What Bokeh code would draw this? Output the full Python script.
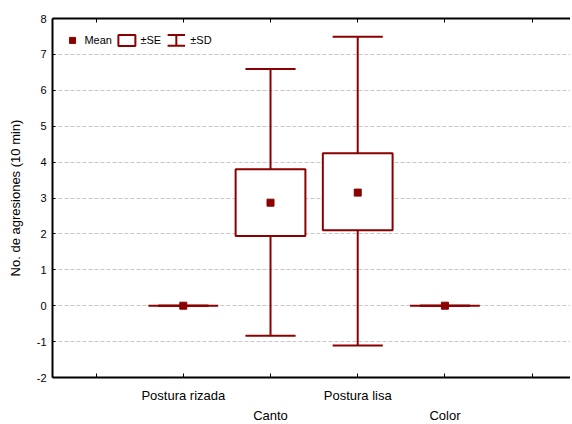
from bokeh.plotting import figure
from bokeh.models import LinearAxis, FixedTicker, Range1d, ColumnDataSource
from bokeh.core.properties import value
from bokeh.embed import file_html
from bokeh.resources import INLINE

# ---- data ----
categories = ["Postura rizada", "Canto", "Postura lisa", "Color"]
positions = [1, 2, 3, 4]
means = [0.0, 2.87, 3.15, 0.0]
se_low = [0.0, 1.94, 2.10, 0.0]
se_high = [0.0, 3.80, 4.25, 0.0]
sd_low = [0.0, -0.84, -1.11, 0.0]
sd_high = [0.0, 6.59, 7.49, 0.0]
y_ticks = [-2, -1, 0, 1, 2, 3, 4, 5, 6, 7, 8]
y_label = "No. de agresiones (10 min)"

RED = "#8b0000"
FONT = "Liberation Sans"
BOX_W = 0.8
CAP_W = 0.575

p = figure(frame_width=518, frame_height=359, output_backend="svg", toolbar_location=None,
           x_range=Range1d(-0.5, 5.44), y_range=Range1d(-2, 8),
           x_axis_location=None, y_axis_location=None,
           min_border_left=52, min_border_right=0, min_border_top=18, min_border_bottom=0)
p.outline_line_color = None
p.background_fill_color = "white"
p.border_fill_color = "white"

# grid
p.xgrid.visible = False
p.ygrid.ticker = FixedTicker(ticks=y_ticks)
p.ygrid.grid_line_color = "#c8c8c8"
p.ygrid.grid_line_dash = "4 2"
p.ygrid.grid_line_width = 1

# left axis
ya = LinearAxis(ticker=FixedTicker(ticks=y_ticks), axis_label=y_label)
ya.axis_line_width = 2
ya.axis_line_color = "black"
ya.major_tick_in = 3
ya.major_tick_out = 0
ya.minor_tick_line_color = None
ya.major_label_standoff = 6
ya.major_label_text_font = FONT
ya.major_label_text_font_size = "11px"
ya.major_label_text_color = "black"
ya.major_label_overrides = {t: str(t) for t in y_ticks}
ya.axis_label_text_font = FONT
ya.axis_label_text_font_size = "13px"
ya.axis_label_text_font_style = "normal"
ya.axis_label_text_color = "black"
ya.axis_label_standoff = 11
p.add_layout(ya, "left")

xticks = [0, 1, 2, 3, 4, 5]
# top axis (line + ticks only)
ta = LinearAxis(ticker=FixedTicker(ticks=xticks))
ta.axis_line_width = 2
ta.axis_line_color = "black"
ta.major_tick_in = 4
ta.major_tick_out = 0
ta.minor_tick_line_color = None
ta.major_label_text_font_size = "0px"
ta.major_label_standoff = 0
ta.major_label_overrides = {t: "" for t in xticks}
p.add_layout(ta, "above")

# bottom axis, row 1
ba = LinearAxis(ticker=FixedTicker(ticks=xticks))
ba.axis_line_width = 2
ba.axis_line_color = "black"
ba.major_tick_in = 4
ba.major_tick_out = 0
ba.minor_tick_line_color = None
ba.major_label_standoff = 10
ba.major_label_text_font = FONT
ba.major_label_text_font_size = "13px"
ba.major_label_text_color = "black"
ov1 = {t: "" for t in xticks}
ov1[positions[0]] = categories[0]
ov1[positions[2]] = categories[2]
ba.major_label_overrides = ov1
p.add_layout(ba, "below")

# bottom axis, row 2
ba2 = LinearAxis(ticker=FixedTicker(ticks=[positions[1], positions[3]]))
ba2.axis_line_color = None
ba2.major_tick_line_color = None
ba2.minor_tick_line_color = None
ba2.major_label_standoff = -4
ba2.major_label_text_font = FONT
ba2.major_label_text_font_size = "13px"
ba2.major_label_text_color = "black"
ba2.major_label_overrides = {positions[1]: categories[1], positions[3]: categories[3]}
p.add_layout(ba2, "below")

src = ColumnDataSource(dict(
    x=positions, mean=means, se_low=se_low, se_high=se_high, sd_low=sd_low, sd_high=sd_high,
    left=[x - BOX_W / 2 for x in positions], right=[x + BOX_W / 2 for x in positions],
    cl=[x - CAP_W / 2 for x in positions], cr=[x + CAP_W / 2 for x in positions],
))

# whiskers
p.segment(x0="x", y0="sd_low", x1="x", y1="sd_high", source=src, line_color=RED, line_width=2)
p.segment(x0="cl", y0="sd_low", x1="cr", y1="sd_low", source=src, line_color=RED, line_width=2)
p.segment(x0="cl", y0="sd_high", x1="cr", y1="sd_high", source=src, line_color=RED, line_width=2)
# SE boxes
p.quad(left="left", right="right", bottom="se_low", top="se_high", source=src,
       fill_color="white", line_color=RED, line_width=2)
# means
p.scatter(x="x", y="mean", source=src, marker="square", size=7, fill_color=RED, line_color=RED)

# ---- legend (drawn manually) ----
lx_mean, ly = -0.27, 7.39
p.scatter(x=[lx_mean], y=[ly], marker="square", size=6, fill_color=RED, line_color=RED)
p.rect(x=[0.353], y=[ly], width=17, height=11, width_units="screen", height_units="screen",
       fill_color="white", line_color=RED, line_width=2)
sdx = 0.92
p.segment(x0=[sdx], y0=[ly - 0.15], x1=[sdx], y1=[ly + 0.15], line_color=RED, line_width=2)
p.segment(x0=[sdx - 0.1, sdx - 0.1], y0=[ly - 0.15, ly + 0.15], x1=[sdx + 0.1, sdx + 0.1],
          y1=[ly - 0.15, ly + 0.15], line_color=RED, line_width=2)
p.text(x=[-0.134, 0.508, 1.08], y=[ly, ly, ly], text=["Mean", "±SE", "±SD"],
       text_font=value(FONT), text_font_size="11px", text_baseline="middle", text_align="left",
       text_color="black")

open("out.html", "w").write(file_html(p, INLINE))
